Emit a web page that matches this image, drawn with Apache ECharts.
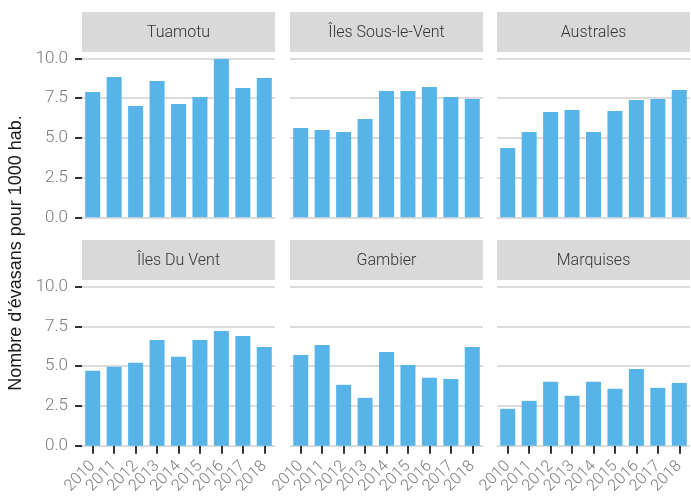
<!DOCTYPE html>
<html>
<head>
<meta charset="utf-8">
<script src="https://cdn.jsdelivr.net/npm/echarts@6/dist/echarts.min.js"></script>
<style>
  html, body { margin: 0; padding: 0; background: #fff; }
  #myChart { width: 691px; height: 501px; }
</style>
</head>
<body>
<div id="myChart"></div>
<script>
// données : évasans pour 1000 habitants, par archipel
const years = ['2010', '2011', '2012', '2013', '2014', '2015', '2016', '2017', '2018'];
const panels = ['Tuamotu', 'Îles Sous-le-Vent', 'Australes', 'Îles Du Vent', 'Gambier', 'Marquises'];
const tuamotu = [7.88, 8.82, 7.0, 8.57, 7.12, 7.57, 9.96, 8.13, 8.76];
const sousLeVent = [5.61, 5.49, 5.36, 6.18, 7.94, 7.94, 8.19, 7.57, 7.44];
const australes = [4.36, 5.36, 6.62, 6.75, 5.36, 6.69, 7.38, 7.44, 8.0];
const duVent = [4.71, 4.96, 5.21, 6.65, 5.59, 6.65, 7.22, 6.9, 6.21];
const gambier = [5.71, 6.34, 3.83, 3.01, 5.9, 5.08, 4.27, 4.2, 6.21];
const marquises = [2.32, 2.82, 4.02, 3.14, 4.02, 3.58, 4.83, 3.64, 3.95];
const yTicks = [0, 2.5, 5, 7.5, 10];

const values = [tuamotu, sousLeVent, australes, duVent, gambier, marquises];

const colLeft = [82, 290, 497];
const panelW = 193;
const rowTop = [58.3, 286.7];
const panelH = 159;
const stripTop = [12, 240];

let grids = [], xAxes = [], yAxes = [], series = [], graphics = [];

panels.forEach((name, i) => {
  const r = Math.floor(i / 3), c = i % 3;
  grids.push({
    left: colLeft[c], top: rowTop[r], width: panelW, height: panelH,
    containLabel: false
  });
  xAxes.push({
    type: 'category',
    gridIndex: i,
    data: years,
    offset: 7,
    axisLine: {show: false},
    axisTick: {
      show: r === 1,
      alignWithLabel: true,
      length: 8,
      lineStyle: {color: '#333', width: 2}
    },
    axisLabel: {
      show: r === 1,
      rotate: 45,
      margin: 11,
      fontFamily: 'Roboto',
      fontWeight: 300,
      fontSize: 16,
      color: '#7a7a7a',
      interval: 0
    }
  });
  yAxes.push({
    type: 'value',
    gridIndex: i,
    min: yTicks[0],
    max: yTicks[yTicks.length - 1],
    interval: 2.5,
    axisLine: {show: false},
    axisTick: {
      show: c === 0,
      length: 7,
      lineStyle: {color: '#333', width: 2}
    },
    axisLabel: {
      show: c === 0,
      margin: 14,
      fontFamily: 'Roboto',
      fontWeight: 300,
      fontSize: 17,
      color: '#7a7a7a',
      formatter: v => v.toFixed(1)
    },
    splitLine: {lineStyle: {color: '#dcdcdc', width: 2}}
  });
  series.push({
    type: 'bar',
    xAxisIndex: i,
    yAxisIndex: i,
    data: values[i],
    barWidth: 15,
    itemStyle: {color: '#56B4E9'},
    silent: true
  });
  // bandeau de titre
  graphics.push({
    type: 'rect',
    shape: {x: colLeft[c], y: stripTop[r], width: panelW, height: 40},
    style: {fill: '#d9d9d9'}
  });
  graphics.push({
    type: 'text',
    x: colLeft[c] + panelW / 2,
    y: stripTop[r] + 21,
    style: {
      text: name,
      font: '300 16px Roboto',
      fill: '#333',
      align: 'center',
      verticalAlign: 'middle'
    }
  });
});

graphics.push({
  type: 'text',
  x: 16,
  y: 253,
  rotation: Math.PI / 2,
  style: {
    text: "Nombre d'évasans pour 1000 hab.",
    font: '18px "Liberation Sans"',
    fill: '#1a1a1a',
    align: 'center',
    verticalAlign: 'middle'
  }
});

const myChart = echarts.init(document.getElementById('myChart'));
myChart.setOption({
  animation: false,
  grid: grids,
  xAxis: xAxes,
  yAxis: yAxes,
  series: series,
  graphic: graphics
});
</script>
</body>
</html>
